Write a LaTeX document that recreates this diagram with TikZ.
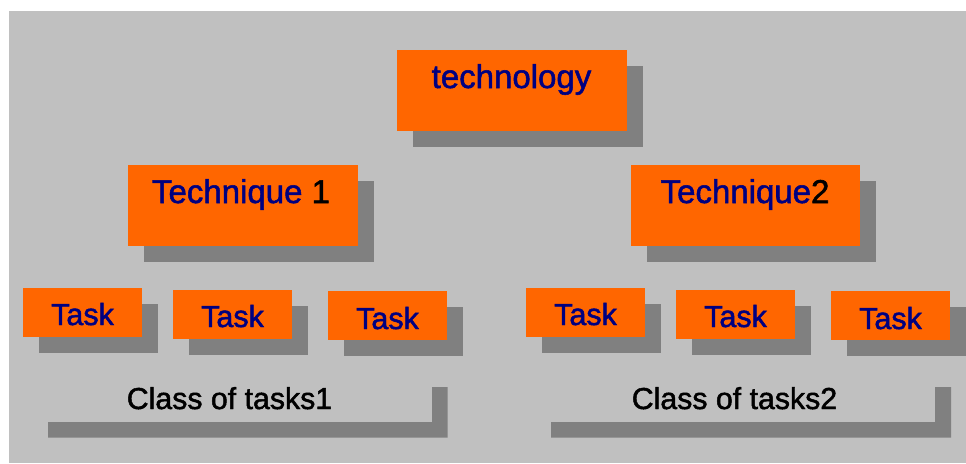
\documentclass[tikz,border=0pt]{standalone}
\usepackage{fontspec}
\setmainfont{Liberation Sans}[FakeBold=1.6,AutoFakeBold=1.6]
\usetikzlibrary{shadows}
\definecolor{bg}{HTML}{C0C0C0}
\definecolor{shade}{HTML}{808080}
\definecolor{org}{HTML}{FF6600}
\definecolor{navyblue}{HTML}{000080}
\tikzset{
  box/.style={fill=org, draw=none, inner sep=0pt, anchor=north west,
    drop shadow={shadow xshift=16pt, shadow yshift=-16pt, fill=shade, opacity=1}},
  bigbox/.style={box, minimum width=229.5pt, minimum height=81pt},
  taskbox/.style={box, minimum width=119pt, minimum height=48.7pt},
  biglbl/.style={anchor=base, inner sep=0pt, text=navyblue, font=\fontsize{33}{36}\selectfont\bfseries},
  tasklbl/.style={anchor=base, inner sep=0pt, text=navyblue, font=\fontsize{30.5}{34}\selectfont\bfseries},
  classlbl/.style={anchor=base, inner sep=0pt, text=black, font=\fontsize{30.3}{34}\selectfont\bfseries},
  bracket/.style={fill=shade, draw=none}
}
\begin{document}
\begin{tikzpicture}[x=1pt,y=-1pt]
\useasboundingbox (0,0) rectangle (966,463);
\fill[bg] (9,11) rectangle (966,463);
% top
\node[bigbox, minimum width=230pt, minimum height=80.7pt] (tech) at (397,50) {};
\node[biglbl] (techt) at (511.5,88) {technology};
% techniques
\node[bigbox] (t1) at (128,165) {};
\node[biglbl] (t1t) at (241,203) {Technique \textcolor{black}{1}};
\node[bigbox, minimum width=229pt] (t2) at (631,165) {};
\node[biglbl] (t2t) at (745,203) {Technique\textcolor{black}{2}};
% tasks left
\node[taskbox] (a1) at (23,288) {};
\node[tasklbl] (a1t) at (82.5,325) {Task};
\node[taskbox] (a2) at (173,290) {};
\node[tasklbl] (a2t) at (232.5,327) {Task};
\node[taskbox] (a3) at (328,291) {};
\node[tasklbl] (a3t) at (387.5,329) {Task};
% tasks right
\node[taskbox] (b1) at (526,288) {};
\node[tasklbl] (b1t) at (585.5,325) {Task};
\node[taskbox] (b2) at (676,290) {};
\node[tasklbl] (b2t) at (735.5,327) {Task};
\node[taskbox] (b3) at (831,291) {};
\node[tasklbl] (b3t) at (890.5,329) {Task};
% brackets
\fill[bracket] (48,422) -- (432,422) -- (432,387) -- (447.7,387) -- (447.7,437.7) -- (48,437.7) -- cycle;
\node[classlbl] (c1) at (229.5,409) {Class of tasks1};
\fill[bracket] (551,422) -- (935,422) -- (935,387) -- (951,387) -- (951,437.7) -- (551,437.7) -- cycle;
\node[classlbl] (c2) at (734.5,409) {Class of tasks2};
\end{tikzpicture}
\end{document}
